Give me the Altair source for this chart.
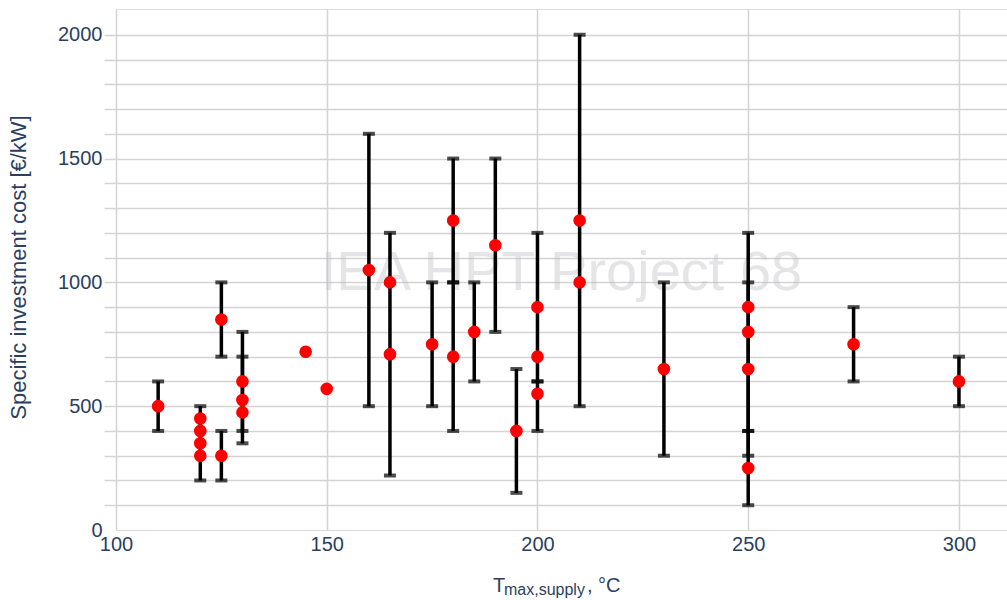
import altair as alt
import pandas as pd

# ---- data ----
eb_x  = [110, 120, 125, 125, 130, 130, 160, 165, 175, 180, 180, 185, 190, 195, 200, 200, 210, 230, 250, 250, 250, 275, 300]
eb_lo = [400, 200, 200, 700, 400, 350, 500, 220, 500, 1000, 400, 600, 800, 150, 600, 400, 500, 300, 400, 300, 100, 600, 500]
eb_hi = [600, 500, 400, 1000, 800, 700, 1600, 1200, 1000, 1500, 1000, 1000, 1500, 650, 1200, 600, 2000, 1000, 1200, 1000, 400, 900, 700]

pt_x = [110, 120, 120, 120, 120, 125, 125, 130, 130, 130, 145, 150, 160, 165, 165, 175, 180, 180,
        185, 190, 195, 200, 200, 200, 210, 210, 230, 250, 250, 250, 250, 275, 300]
pt_y = [500, 450, 400, 350, 300, 850, 300, 600, 525, 475, 720, 570, 1050, 1000, 710, 750, 1250, 700,
        800, 1150, 400, 900, 700, 550, 1250, 1000, 650, 900, 800, 650, 250, 750, 600]

x_ticks = [100, 150, 200, 250, 300]
y_ticks = list(range(0, 2001, 100))

y_title = "Specific investment cost [€/kW]"
x_title_main = "T"
x_title_sub = "max,supply"
x_title_tail = ", °C"
watermark = "IEA HPT Project 68"

# ---- tables ----
df_eb = pd.DataFrame({"x": eb_x, "lo": eb_lo, "hi": eb_hi})
df_caps = pd.DataFrame({"x": eb_x + eb_x, "v": eb_lo + eb_hi})
df_pt = pd.DataFrame({"x": pt_x, "y": pt_y})

W, H = 891, 521
TXT = "#2a3f5f"
GRID = "#d3d3d3"

xs = alt.Scale(domain=[100, 311.4], nice=False, zero=False)
ys = alt.Scale(domain=[0, 2104], nice=False, zero=False)

xaxis = alt.Axis(values=x_ticks, title=None, grid=True, gridColor=GRID, gridWidth=1.5,
                 ticks=False, domain=False, labelFontSize=20, labelColor=TXT,
                 labelPadding=4, format="d", labelFlush=False)
yaxis = alt.Axis(values=y_ticks, title=y_title, grid=True,
                 gridColor={"condition": {"test": "datum.value === 0", "value": "transparent"}, "value": GRID},
                 gridWidth=1.5, ticks=True, tickSize=12,
                 tickColor={"condition": {"test": "datum.value === 0", "value": "transparent"}, "value": GRID},
                 tickWidth=1.5, domain=False,
                 labelFontSize=20, labelColor=TXT, labelPadding=2, format="d", labelFlush=False,
                 labelExpr="datum.value % 500 === 0 ? datum.label : ''",
                 titleFontSize=22, titleFontWeight="normal", titleColor=TXT,
                 titleAngle=270, titleX=-86, titleY=258, titleAlign="center",
                 titleBaseline="bottom")

wm = alt.Chart(pd.DataFrame({"t": [watermark]})).mark_text(
    fontSize=56, color="#c0c0c8", opacity=0.4, align="center", baseline="alphabetic"
).encode(x=alt.value(W / 2), y=alt.value(281), text="t:N")

rules = alt.Chart(df_eb).mark_rule(color="black", strokeWidth=3.5).encode(
    x=alt.X("x:Q", scale=xs, axis=xaxis),
    y=alt.Y("lo:Q", scale=ys, axis=yaxis),
    y2="hi:Q",
)

caps = alt.Chart(df_caps).mark_tick(color="black", orient="horizontal", size=12, thickness=4).encode(
    x=alt.X("x:Q", scale=xs, axis=xaxis),
    y=alt.Y("v:Q", scale=ys, axis=yaxis),
)

pts = alt.Chart(df_pt).mark_circle(color="#ff0000", opacity=1, size=160).encode(
    x=alt.X("x:Q", scale=xs, axis=xaxis),
    y=alt.Y("y:Q", scale=ys, axis=yaxis),
)

one = pd.DataFrame({"a": [0]})
t_main = alt.Chart(one).mark_text(fontSize=20, color=TXT, align="left", baseline="alphabetic",
                                  text=x_title_main).encode(x=alt.value(377), y=alt.value(583))
t_sub = alt.Chart(one).mark_text(fontSize=16, color=TXT, align="left", baseline="alphabetic",
                                 text=x_title_sub).encode(x=alt.value(388), y=alt.value(586))
t_tail = alt.Chart(one).mark_text(fontSize=20, color=TXT, align="left", baseline="alphabetic",
                                  text=x_title_tail).encode(x=alt.value(471), y=alt.value(583))

chart = alt.layer(wm, rules, caps, pts, t_main, t_sub, t_tail).properties(
    width=W, height=H,
    autosize=alt.AutoSizeParams(type="none"),
    padding={"left": 116, "top": 9, "right": 0, "bottom": 70},
    background="white",
).configure_view(stroke=None).configure(font="Liberation Sans")

chart.save("out.html", embed_options={"renderer": "svg", "actions": False})
